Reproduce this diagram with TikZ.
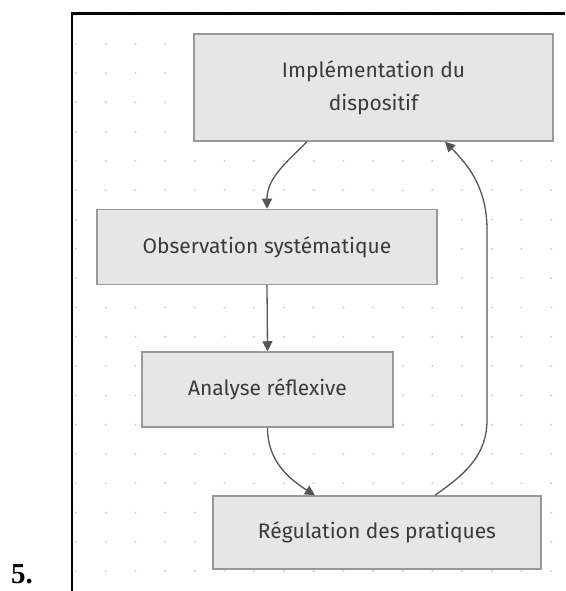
\documentclass[tikz,border=0pt]{standalone}
\usepackage{fontspec}
\usetikzlibrary{arrows.meta}
\newfontfamily\boxfont{Fira Sans}
\newfontfamily\numfont{Liberation Serif}
\definecolor{boxfill}{HTML}{E6E6E6}
\definecolor{boxline}{HTML}{999999}
\definecolor{boxtext}{HTML}{3A3A3A}
\definecolor{edgeline}{HTML}{555555}
\definecolor{griddot}{HTML}{D2D2D2}
\begin{document}
\begin{tikzpicture}[x=1pt,y=1pt,
	etape/.style={draw=boxline,line width=1.5pt,fill=boxfill,text=boxtext,font=\boxfont\fontsize{21}{33}\selectfont,align=center,inner sep=0pt},
	fleche/.style={draw=edgeline,line width=1.3pt,-{Triangle[length=10pt,width=10pt]}}]
		\useasboundingbox (0,0) rectangle (565,591);
		\foreach \i in {0,...,16} \foreach \j in {0,...,19}
			\fill[griddot] (76+29.7*\i,576.5-29.3*\j) circle (1.2pt); % fond pointillé
		\draw[line width=2.2pt] (72,0) -- (72,577.5) -- (565,577.5);
		\node[anchor=base west,inner sep=0pt,font=\numfont\bfseries\fontsize{29}{29}\selectfont] (num) at (11,7) {5.};
		\node[etape,minimum width=359pt,minimum height=107pt] (impl) at (373.5,503.5) {Implémentation du\\dispositif};
		\node[etape,minimum width=340pt,minimum height=75pt] (obs) at (267,344) {Observation systématique};
		\node[etape,minimum width=251pt,minimum height=75pt] (ana) at (267.5,201.5) {Analyse réflexive};
		\node[etape,minimum width=328pt,minimum height=73pt] (reg) at (377,58.5) {Régulation des pratiques};
		\draw[fleche] ([xshift=-66.5pt]impl.south) to[out=-135,in=90] (obs.north);
		\draw[fleche] (obs.south) -- (ana.north);
		\draw[fleche] (ana.south) to[out=-90,in=148] ([xshift=-62pt]reg.north);
		\draw[fleche] ([xshift=58pt]reg.north) to[out=35,in=-90] (487,171) -- (487,361) to[out=90,in=-45] ([xshift=71.5pt]impl.south);
\end{tikzpicture}
\end{document}
